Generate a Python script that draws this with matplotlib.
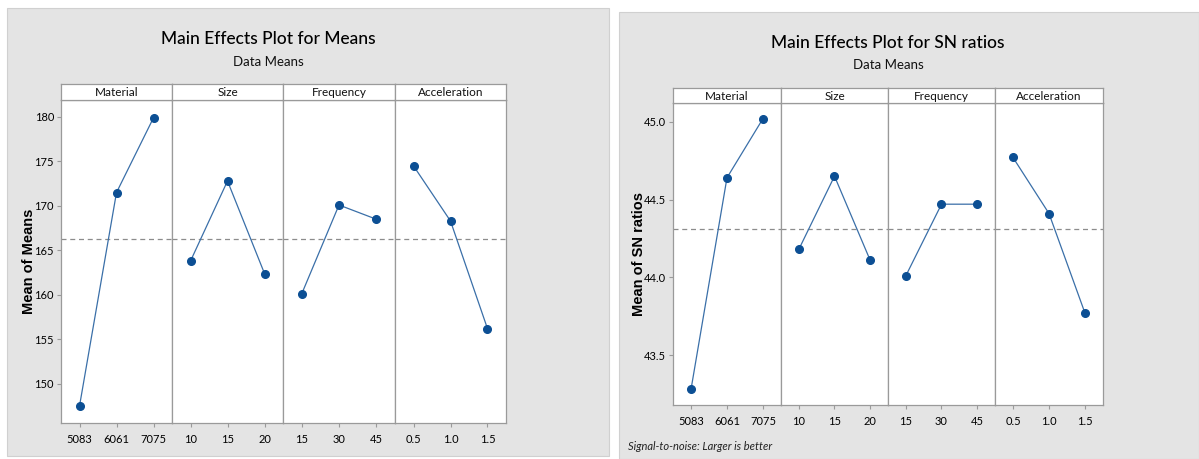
import matplotlib.pyplot as plt
from matplotlib.patches import Rectangle

plt.rcParams['font.family'] = ['Lato', 'DejaVu Sans']

factors = ['Material', 'Size', 'Frequency', 'Acceleration']
levels = [['5083', '6061', '7075'], ['10', '15', '20'],
          ['15', '30', '45'], ['0.5', '1.0', '1.5']]

means_material = [147.5, 171.5, 179.9]
means_size = [163.8, 172.8, 162.4]
means_frequency = [160.1, 170.1, 168.5]
means_acceleration = [174.5, 168.3, 156.2]
means_grand = 166.3

sn_material = [43.28, 44.64, 45.02]
sn_size = [44.18, 44.65, 44.11]
sn_frequency = [44.01, 44.47, 44.47]
sn_acceleration = [44.77, 44.41, 43.77]
sn_grand = 44.31

W, H = 1199, 459
LINE = '#3a6fa8'
DOT = '#0c4f94'
EDGE = '#9a9a9a'
BG = '#e4e4e4'

fig = plt.figure(figsize=(W / 100, H / 100), dpi=100)
fig.patch.set_facecolor('white')


def px(x0, y0, x1, y1):
    # pixel box (top-left origin) -> figure fraction rect
    return [x0 / W, 1 - y1 / H, (x1 - x0) / W, (y1 - y0) / H]


def panel(box, title, title_xy, sub_y, ylabel, ylabel_x, edges, strip, axb,
          series, grand, ylim, yticks, yfmt):
    fig.add_artist(Rectangle((box[0] / W, 1 - box[3] / H),
                             (box[2] - box[0]) / W, (box[3] - box[1]) / H,
                             transform=fig.transFigure, facecolor=BG,
                             edgecolor='#d0d0d0', lw=0.8, zorder=0))
    fig.text(title_xy[0] / W, 1 - title_xy[1] / H, title, ha='center',
             va='center', fontsize=12.5, color='black', fontweight='medium')
    fig.text(title_xy[0] / W, 1 - sub_y / H, 'Data Means', ha='center',
             va='center', fontsize=9.5, color='#111111')
    for i, (name, vals, labs) in enumerate(zip(factors, series, levels)):
        x0, x1 = edges[i], edges[i + 1]
        ax = fig.add_axes(px(x0, strip[1], x1, axb))
        ax.set_facecolor('white')
        ax.plot(range(3), vals, color=LINE, lw=0.9, zorder=3)
        ax.plot(range(3), vals, 'o', color=DOT, ms=5.5, zorder=4)
        ax.axhline(grand, color='#8c8c8c', lw=0.9, ls=(0, (4, 3)), zorder=2)
        ax.set_xlim(-0.5, 2.5)
        ax.set_ylim(*ylim)
        ax.set_xticks(range(3))
        ax.set_xticklabels(labs, fontsize=8)
        ax.tick_params(axis='x', length=3, color=EDGE, pad=5)
        ax.set_yticks(yticks)
        if i == 0:
            ax.set_yticklabels([yfmt.format(v) for v in yticks], fontsize=8)
            ax.tick_params(axis='y', length=3, color=EDGE, pad=2)
        else:
            ax.tick_params(axis='y', left=False, labelleft=False)
        for s in ax.spines.values():
            s.set_color(EDGE)
            s.set_linewidth(0.9)
        # factor name strip above each panel
        sx = fig.add_axes(px(x0, strip[0], x1, strip[1]))
        sx.set_facecolor('white')
        sx.set_xticks([])
        sx.set_yticks([])
        for s in sx.spines.values():
            s.set_color(EDGE)
            s.set_linewidth(0.9)
        sx.text(0.5, 0.45, name, ha='center', va='center', fontsize=8.5,
                transform=sx.transAxes, color='#111111')
    fig.text(ylabel_x / W, 1 - ((strip[1] + axb) / 2) / H, ylabel,
             rotation=90, ha='center', va='center', fontsize=10.5,
             fontweight='bold', family='Liberation Sans')


panel((7, 8, 609, 456), 'Main Effects Plot for Means', (268, 39), 62,
      'Mean of Means', 29, [61, 172, 283, 395, 506], (84, 100), 423,
      [means_material, means_size, means_frequency, means_acceleration],
      means_grand, (145.6, 181.9), [150, 155, 160, 165, 170, 175, 180],
      '{:.0f}')

panel((619, 12, 1199, 459), 'Main Effects Plot for SN ratios', (888, 43), 65,
      'Mean of SN ratios', 639, [673, 781, 888, 995, 1103], (88, 103), 405,
      [sn_material, sn_size, sn_frequency, sn_acceleration],
      sn_grand, (43.18, 45.12), [43.5, 44.0, 44.5, 45.0], '{:.1f}')

fig.text(628 / W, 1 - 447 / H, 'Signal-to-noise: Larger is better',
         fontsize=8, style='italic', ha='left', va='center', color='#222222')

fig.savefig('out.png', dpi=100, facecolor='white')
